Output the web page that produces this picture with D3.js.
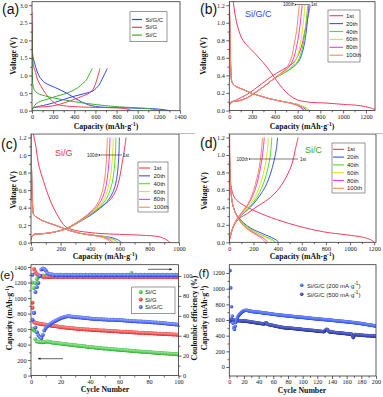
<!DOCTYPE html>
<html><head><meta charset="utf-8">
<script src="https://cdnjs.cloudflare.com/ajax/libs/d3/7.8.5/d3.min.js"></script>
<style>
body{margin:0;background:#fff;}
svg{display:block;}
.tick text{font-family:"Liberation Serif","Times New Roman",serif;font-size:6.2px;fill:#222;}
.tick line{stroke:#222;stroke-width:0.7;}
.domain{display:none;}
.ttl{font-family:"Liberation Serif","Times New Roman",serif;font-weight:bold;font-size:7.8px;fill:#111;}
.plab{font-family:"Liberation Sans",Arial,sans-serif;font-size:14px;fill:#111;}
.leg{font-family:"Liberation Sans",Arial,sans-serif;font-size:6px;fill:#222;}
.ann{font-family:"Liberation Sans",Arial,sans-serif;font-size:4.6px;fill:#222;}
</style></head><body><script>
// ---------------- DATA ----------------
const cycleLabels = ["1st","20th","40th","60th","80th","100th"];
const materials = ["Si/G/C","Si/G","Si/C"];
// (a) first cycle curves [capacity, voltage]
const a_SiGC_dis = [[0,2.5],[3,1.9],[8,1.55],[25,1.35],[50,1.1],[75,0.95],[120,0.8],[225,0.65],[328,0.5],[416,0.34],[470,0.25],[533,0.17],[600,0.12],[700,0.095],[850,0.085],[1000,0.07],[1150,0.055],[1240,0.03],[1300,0]];
const a_SiGC_chg = [[0,0.06],[20,0.09],[61,0.12],[164,0.19],[281,0.3],[384,0.4],[501,0.49],[574,0.56],[632,0.72],[660,0.88],[685,1.03],[712,1.2]];
const a_SiG_dis = [[0,2.8],[2,2.0],[5,1.5],[16,1.25],[34,1.09],[50,0.9],[83,0.71],[128,0.49],[173,0.33],[218,0.21],[241,0.175],[300,0.14],[354,0.125],[466,0.105],[600,0.095],[750,0.085],[860,0.07],[910,0.04],[940,0]];
const a_SiG_chg = [[0,0.05],[10,0.08],[40,0.1],[120,0.11],[200,0.14],[260,0.18],[320,0.24],[380,0.3],[440,0.37],[500,0.44],[540,0.5],[575,0.6],[600,0.75],[615,0.9],[630,1.05],[642,1.2]];
const a_SiC_dis = [[0,2.3],[2,1.5],[4,1.0],[8,0.75],[20,0.6],[50,0.5],[100,0.44],[227,0.35],[393,0.26],[586,0.18],[780,0.12],[973,0.085],[1111,0.057],[1170,0.03],[1200,0]];
const a_SiC_chg = [[0,0.02],[15,0.1],[40,0.2],[90,0.28],[150,0.33],[230,0.41],[300,0.47],[370,0.55],[430,0.65],[480,0.77],[520,0.9],[545,1.05],[570,1.2]];
// (b) Si/G/C cycles 20..100
const b_dis_20 = [[0,1.24],[4,1.0],[8,0.7],[14,0.45],[22,0.33],[40,0.29],[73,0.265],[130,0.235],[190,0.2],[260,0.17],[337,0.14],[420,0.115],[500,0.095],[580,0.075],[640,0.045],[680,0]];
const b_dis_40 = [[0,1.24],[4,1.0],[8,0.7],[14,0.45],[22,0.33],[40,0.29],[73,0.265],[130,0.235],[190,0.2],[260,0.17],[337,0.14],[420,0.115],[500,0.095],[590,0.072],[660,0.04],[705,0]];
const b_dis_60 = [[0,1.24],[4,1.0],[8,0.7],[14,0.45],[22,0.33],[40,0.29],[73,0.265],[130,0.235],[190,0.2],[260,0.17],[337,0.14],[420,0.115],[500,0.095],[585,0.073],[655,0.04],[700,0]];
const b_dis_80 = [[0,1.24],[4,1.0],[8,0.7],[14,0.45],[22,0.33],[40,0.29],[73,0.265],[130,0.235],[190,0.2],[260,0.17],[337,0.14],[420,0.115],[500,0.095],[570,0.072],[630,0.04],[660,0]];
const b_dis_100 = [[0,1.24],[4,1.0],[8,0.7],[14,0.45],[22,0.33],[40,0.29],[73,0.265],[130,0.235],[190,0.2],[260,0.17],[337,0.14],[420,0.115],[500,0.095],[565,0.07],[620,0.04],[650,0]];
const b_chg_20 = [[0,0.05],[5,0.08],[20,0.1],[80,0.11],[150,0.14],[200,0.18],[300,0.27],[400,0.37],[470,0.42],[545,0.48],[610,0.56],[650,0.7],[673,0.87],[688,1.04],[700,1.2]];
const b_chg_40 = [[0,0.05],[5,0.08],[20,0.1],[80,0.11],[150,0.14],[200,0.18],[300,0.27],[400,0.37],[470,0.42],[540,0.48],[600,0.56],[640,0.7],[662,0.87],[677,1.04],[690,1.2]];
const b_chg_60 = [[0,0.05],[5,0.08],[20,0.1],[80,0.11],[150,0.14],[200,0.18],[300,0.27],[400,0.37],[460,0.42],[530,0.48],[580,0.56],[615,0.7],[638,0.87],[653,1.04],[665,1.2]];
const b_chg_80 = [[0,0.05],[5,0.08],[20,0.1],[80,0.11],[150,0.14],[200,0.18],[300,0.27],[400,0.37],[460,0.43],[520,0.49],[560,0.58],[590,0.72],[612,0.88],[628,1.05],[640,1.2]];
const b_chg_100 = [[0,0.05],[5,0.08],[20,0.1],[80,0.11],[150,0.14],[200,0.18],[300,0.27],[400,0.37],[460,0.43],[510,0.5],[545,0.6],[570,0.75],[590,0.9],[603,1.05],[615,1.2]];
// (c) Si/G cycles 20..100
const c_dis_20 = [[0,1.24],[3,0.9],[7,0.6],[12,0.4],[18,0.32],[38,0.29],[80,0.25],[128,0.22],[180,0.19],[241,0.15],[300,0.12],[354,0.1],[420,0.085],[480,0.075],[540,0.06],[585,0.035],[612,0]];
const c_dis_40 = [[0,1.24],[3,0.9],[7,0.6],[12,0.4],[18,0.32],[38,0.29],[80,0.25],[128,0.22],[180,0.19],[241,0.15],[300,0.12],[354,0.1],[420,0.085],[480,0.075],[520,0.06],[560,0.035],[590,0]];
const c_dis_60 = [[0,1.24],[3,0.9],[7,0.6],[12,0.4],[18,0.32],[38,0.29],[80,0.25],[128,0.22],[180,0.19],[241,0.15],[300,0.12],[354,0.1],[420,0.085],[470,0.075],[510,0.06],[545,0.035],[570,0]];
const c_dis_80 = [[0,1.24],[3,0.9],[7,0.6],[12,0.4],[18,0.32],[38,0.29],[80,0.25],[128,0.22],[180,0.19],[241,0.15],[300,0.12],[354,0.1],[420,0.085],[460,0.073],[495,0.06],[530,0.035],[555,0]];
const c_dis_100 = [[0,1.24],[3,0.9],[7,0.6],[12,0.4],[18,0.32],[38,0.29],[80,0.25],[128,0.22],[180,0.19],[241,0.15],[300,0.12],[354,0.1],[420,0.083],[455,0.072],[485,0.06],[515,0.035],[540,0]];
const c_chg_20 = [[0,0.03],[5,0.07],[20,0.095],[60,0.1],[120,0.11],[180,0.13],[240,0.16],[300,0.21],[350,0.26],[400,0.31],[465,0.39],[515,0.47],[555,0.58],[578,0.72],[590,0.9],[595,1.05],[597,1.2]];
const c_chg_40 = [[0,0.03],[5,0.07],[20,0.095],[60,0.1],[120,0.11],[180,0.13],[240,0.16],[300,0.21],[350,0.265],[400,0.32],[460,0.4],[505,0.49],[537,0.61],[557,0.76],[567,0.93],[572,1.08],[574,1.2]];
const c_chg_60 = [[0,0.03],[5,0.07],[20,0.095],[60,0.1],[120,0.11],[180,0.13],[240,0.16],[300,0.215],[350,0.27],[400,0.33],[455,0.41],[495,0.5],[522,0.63],[540,0.78],[549,0.95],[554,1.1],[556,1.2]];
const c_chg_80 = [[0,0.03],[5,0.07],[20,0.095],[60,0.1],[120,0.11],[180,0.13],[240,0.16],[300,0.22],[350,0.275],[400,0.34],[450,0.42],[485,0.52],[507,0.65],[520,0.8],[528,0.95],[532,1.1],[534,1.2]];
const c_chg_100 = [[0,0.03],[5,0.07],[20,0.095],[60,0.1],[120,0.11],[180,0.13],[240,0.16],[300,0.22],[350,0.28],[400,0.35],[440,0.42],[470,0.52],[490,0.65],[503,0.8],[510,0.95],[514,1.1],[516,1.2]];
// (d) Si/C cycles 20..100
const d_dis_20 = [[0,1.24],[2,1.0],[5,0.8],[10,0.65],[18,0.52],[30,0.42],[50,0.34],[80,0.28],[120,0.22],[180,0.16],[240,0.12],[300,0.085],[350,0.055],[390,0.025],[410,0]];
const d_dis_40 = [[0,1.24],[2,1.0],[5,0.8],[10,0.65],[18,0.52],[30,0.42],[50,0.34],[80,0.27],[120,0.21],[180,0.15],[240,0.1],[300,0.065],[350,0.035],[385,0]];
const d_dis_60 = [[0,1.24],[2,1.0],[5,0.8],[10,0.65],[18,0.52],[30,0.42],[50,0.34],[80,0.265],[120,0.2],[180,0.14],[240,0.095],[300,0.055],[335,0.03],[360,0]];
const d_dis_80 = [[0,1.24],[2,1.0],[5,0.8],[10,0.65],[18,0.52],[30,0.42],[50,0.34],[80,0.26],[120,0.19],[180,0.13],[240,0.08],[280,0.05],[305,0.02],[320,0]];
const d_dis_100 = [[0,1.24],[2,1.0],[5,0.8],[10,0.65],[18,0.52],[30,0.42],[50,0.34],[80,0.255],[120,0.185],[180,0.12],[230,0.08],[265,0.045],[285,0.02],[300,0]];
const d_chg_20 = [[0,0.02],[10,0.08],[30,0.17],[60,0.25],[100,0.31],[150,0.37],[200,0.44],[250,0.53],[300,0.64],[340,0.78],[370,0.93],[390,1.07],[400,1.2]];
const d_chg_40 = [[0,0.02],[10,0.08],[30,0.17],[60,0.25],[100,0.31],[150,0.38],[200,0.46],[250,0.57],[290,0.7],[320,0.85],[340,1.0],[352,1.2]];
const d_chg_60 = [[0,0.02],[10,0.08],[30,0.17],[60,0.25],[100,0.32],[150,0.4],[200,0.49],[240,0.6],[275,0.75],[300,0.9],[315,1.05],[323,1.2]];
const d_chg_80 = [[0,0.02],[10,0.08],[30,0.17],[60,0.26],[100,0.33],[150,0.42],[190,0.52],[225,0.65],[250,0.8],[270,0.95],[282,1.08],[290,1.2]];
const d_chg_100 = [[0,0.02],[10,0.08],[30,0.17],[60,0.26],[100,0.34],[150,0.43],[185,0.53],[215,0.66],[240,0.8],[258,0.95],[268,1.08],[275,1.2]];
// (e) cycling, cycles 1..100
const e_cap_SiC = [1200,580,468,440,436,433,431,430,432,436, 440,438,432,428,425,422,420,418,416,414, 411,409,406,404,401,399,397,395,392,390, 388,386,384,381,379,377,375,373,370,368, 366,364,362,360,358,357,355,353,351,350, 348,346,344,343,341,339,337,336,334,332, 331,329,328,326,324,323,321,320,318,316, 315,313,312,310,309,307,306,304,303,302, 300,299,297,296,295,293,292,290,289,288, 286,285,284,282,281,280,278,277,275,272];
const e_cap_SiG = [940,690,682,677,672,668,665,662,659,656, 653,650,647,644,641,638,635,632,629,626, 624,622,620,618,616,614,612,610,608,606, 604,603,601,600,598,597,596,594,593,592, 591,589,588,587,586,585,583,582,581,580, 579,578,576,575,574,573,572,571,570,568, 567,566,565,564,563,562,561,560,558,557, 556,555,554,553,552,551,550,549,548,547, 546,545,544,543,542,541,540,539,538,537, 536,535,534,533,532,531,530,529,528,527];
const e_cap_SiGC = [1300,810,620,560,520,495,480,525,580,615, 635,650,665,678,690,700,710,720,730,738, 745,752,758,762,765,764,762,760,758,756, 754,752,750,748,746,744,742,740,738,736, 734,732,731,729,728,727,726,725,724,723, 722,721,720,720,719,719,718,718,717,716, 714,713,711,710,708,707,705,704,702,701, 700,699,698,697,696,695,694,693,692,690, 689,688,686,685,684,682,681,679,678,676, 674,672,670,668,666,664,662,660,658,655];
const e_ce_SiC = [47,88,93,97,99,100,100.3,100.5,100.2,100, 100.4,99.2,100,100.3,99.9,100.1,100.2,99.8,100,100.1, 99.9,100.2,100,99.8,100.1,100,99.9,100.2,100,100.1, 99.8,100,100.2,99.9,100,100.1,99.8,100,100.2,100, 99.9,100.1,100,99.8,100.2,100,99.9,100.1,100,100.2, 99.9,100,100.1,99.8,100,100.2,99.9,100,100.1,100, 99.8,100.1,100,100.2,99.9,100,100.1,103,100,99.9, 100.2,100,99.8,100.1,100,99.9,100.2,100,100.1,99.9, 100,100.2,99.8,100,100.1,100,99.9,100.2,100,100.1, 99.9,100,100.2,99.8,100,100.1,100,99.9,100.1,100];
const e_ce_SiG = [68,107,104,102,101,100.2,99.6,99.3,99.2,99.1, 99.2,99.0,99.1,99.3,99.0,99.2,99.1,99.0,99.2,99.1, 99.3,99.0,99.1,99.2,99.0,99.3,99.1,99.0,99.2,99.1, 99.0,99.2,99.3,99.1,99.0,99.2,99.1,99.3,99.0,99.1, 99.2,99.0,99.1,99.3,99.1,99.0,99.2,99.1,99.0,99.2, 99.3,99.1,99.0,99.2,99.1,99.0,99.3,99.1,99.2,99.0, 99.1,99.2,99.0,99.3,99.1,99.0,99.2,99.1,99.3,99.0, 99.1,99.2,99.0,99.1,99.3,99.0,99.2,99.1,99.0,99.2, 99.1,99.3,99.0,99.1,99.2,99.0,99.1,99.3,99.0,99.2, 99.1,99.0,99.2,99.3,99.1,99.0,99.2,99.1,99.0,99.2];
const e_ce_SiGC = [56,63,84,89,93,100,106.5,107.5,107,105.5, 103,102,101.5,101.6,101.2,101.0,101.3,100.9,101.1,101.2, 100.9,101.0,101.2,100.8,101.1,101.0,100.9,101.2,101.0,100.8, 101.1,101.0,100.9,101.2,101.0,100.8,101.1,100.9,101.0,101.2, 100.9,101.0,101.1,100.8,101.2,101.0,100.9,101.1,101.0,100.8, 101.2,101.0,100.9,101.1,101.0,101.2,100.8,101.0,101.1,100.9, 101.0,101.2,100.9,101.0,101.1,100.8,101.0,101.2,100.9,101.0, 101.1,100.9,101.0,101.2,100.8,101.0,101.1,100.9,101.0,101.2, 100.9,101.0,101.1,100.8,101.0,101.2,100.9,101.0,101.1,100.9, 101.0,101.2,100.8,101.0,101.1,100.9,101.0,101.2,100.9,101.0];
// (f) Si/G/C at two rates, cycles 1..200
const f_cap_200 = [1230,1010,770,650,560,500,480,520,570,600, 625,645,660,672,683,692,700,707,713,718, 722,724,724,723,721,719,717,715,713,711, 709,707,706,705,704,703,702,701,700,699, 698,697,695,694,692,691,690,689,688,686, 685,684,683,682,680,679,678,676,675,674, 672,671,670,669,668,667,665,664,663,662, 661,660,659,658,657,656,655,654,653,652, 651,650,649,648,647,646,645,644,643,642, 641,640,639,638,638,637,636,635,634,633, 632,631,630,629,628,627,626,625,624,623, 622,621,620,619,618,617,616,615,614,613, 612,611,611,610,609,608,608,607,606,605, 604,603,603,602,601,600,599,598,597,596, 595,594,593,592,591,590,589,588,587,586, 585,584,583,583,582,581,580,579,578,577, 576,575,574,573,572,571,570,569,568,567, 566,565,563,562,561,559,558,557,555,554, 552,551,549,548,546,545,543,542,540,539, 537,536,534,533,531,530,528,527,525,523];
const f_cap_500 = [580,610,605,600,598,597,596,595,594,594, 593,592,592,591,590,590,589,588,588,587, 586,585,584,583,582,580,579,578,576,575, 573,572,570,569,567,566,564,563,561,560, 558,557,555,554,552,551,549,548,562,565, 560,545,543,541,539,537,535,533,531,529, 527,525,523,521,519,517,515,513,511,510, 508,506,505,503,502,500,499,497,496,495, 498,497,496,495,494,493,492,491,490,489, 488,487,486,485,484,483,482,481,480,479, 478,477,476,475,474,473,472,471,470,469, 469,468,467,466,465,464,463,462,461,460, 459,458,457,456,455,454,453,452,451,460, 470,478,482,475,462,450,448,447,446,445, 444,443,442,441,440,439,438,437,436,435, 434,433,432,431,430,429,428,427,426,425, 424,423,422,421,420,419,418,390,375,395, 415,414,413,412,411,410,409,408,407,406, 405,404,404,403,402,402,401,400,400,399, 399,398,398,397,397,396,396,395,395,394];
// ticks
const a_xticks=[0,200,400,600,800,1000,1200,1400], a_yticks=[0,0.5,1.0,1.5,2.0,2.5,3.0];
const b_xticks=[0,200,400,600,800,1000,1200], v_yticks=[0,0.2,0.4,0.6,0.8,1.0,1.2];
const c_xticks=[0,200,400,600,800,1000];
const e_xticks=[0,20,40,60,80,100], e_yticks=[0,200,400,600,800,1000,1200,1400], e_y2ticks=[0,20,40,60,80,100];
const f_xticks=[0,20,40,60,80,100,120,140,160,180,200], f_yticks=[0,200,400,600,800,1000,1200];

// ---------------- STYLE ----------------
const cycColors=["#f03c5a","#3d55dd","#52dc2a","#e0e21c","#f03ce0","#ff8a5c"];
const matColors={"Si/G/C":"#2f45f0","Si/G":"#f23c5a","Si/C":"#3cae28"};

const W=383,H=397;
const svg=d3.select("body").append("svg").attr("width",W).attr("height",H);
const defs=svg.append("defs");
svg.append("rect").attr("width",W).attr("height",H).attr("fill","#fff");

function grad(id,base,light){
  const g=defs.append("radialGradient").attr("id",id).attr("cx","35%").attr("cy","35%").attr("r","65%");
  g.append("stop").attr("offset","0%").attr("stop-color",light);
  g.append("stop").attr("offset","100%").attr("stop-color",base);
}
grad("gG","#1fa81f","#9ff09f");grad("gR","#e01818","#ffa0a0");grad("gB","#1f3de8","#9fb0ff");
grad("gF1","#2244ee","#8aa0ff");grad("gF2","#1a2590","#6f7ee0");
defs.append("marker").attr("id","arrL").attr("viewBox","0 0 10 10").attr("refX",1).attr("refY",5).attr("markerWidth",4).attr("markerHeight",4).attr("orient","auto-start-reverse")
  .append("path").attr("d","M10,1 L0,5 L10,9 Z").attr("fill","#222");
defs.append("marker").attr("id","arrR").attr("viewBox","0 0 10 10").attr("refX",9).attr("refY",5).attr("markerWidth",4).attr("markerHeight",4).attr("orient","auto")
  .append("path").attr("d","M0,1 L10,5 L0,9 Z").attr("fill","#222");

function mid(arr){return d3.pairs(arr).map(p=>(p[0]+p[1])/2);}

function panel(p){
  const x=d3.scaleLinear().domain(p.xd).range([p.l,p.r]);
  const y=d3.scaleLinear().domain(p.yd).range([p.b,p.t]);
  const g=svg.append("g");
  const cid="clip_"+p.id;
  defs.append("clipPath").attr("id",cid).append("rect").attr("x",p.l).attr("y",p.t).attr("width",p.r-p.l).attr("height",p.b-p.t);
  g.append("g").attr("transform",`translate(0,${p.b})`).call(d3.axisBottom(x).tickValues(mid(p.xt)).tickSize(1.8).tickFormat(""));
  g.append("g").attr("transform",`translate(0,${p.b})`).call(d3.axisBottom(x).tickValues(p.xt).tickSize(3).tickPadding(1).tickFormat(p.xf||d3.format("d")));
  g.append("g").attr("transform",`translate(${p.l},0)`).call(d3.axisLeft(y).tickValues(mid(p.yt)).tickSize(1.8).tickFormat(""));
  g.append("g").attr("transform",`translate(${p.l},0)`).call(d3.axisLeft(y).tickValues(p.yt).tickSize(3).tickPadding(1.5).tickFormat(p.yf||d3.format("d")));
  const plot=g.append("g").attr("clip-path",`url(#${cid})`);
  const top=svg.append("g");
  top.append("rect").attr("x",p.l).attr("y",p.t).attr("width",p.r-p.l).attr("height",p.b-p.t).attr("fill","none").attr("stroke","#333").attr("stroke-width",0.8);
  return {x,y,g,plot,top,p};
}
const lineGen=P=>d3.line().x(d=>P.x(d[0])).y(d=>P.y(d[1])).curve(d3.curveCatmullRom.alpha(0.5));
function drawLine(P,data,color,w){P.plot.append("path").datum(data).attr("fill","none").attr("stroke",color).attr("stroke-width",w||1).attr("stroke-linejoin","round").attr("d",lineGen(P)(data));}

function capTitle(sel){
  sel.append("tspan").text("Capacity (mAh·g");
  sel.append("tspan").attr("dy",-3).attr("font-size","5.5px").text("-1");
  sel.append("tspan").attr("dy",3).text(")");
}
function xTitle(x,y,cap,txt){const t=svg.append("text").attr("class","ttl").attr("x",x).attr("y",y).attr("text-anchor","middle"); if(cap)capTitle(t); else t.text(txt);}
function yTitle(x,y,cap,txt){const t=svg.append("text").attr("class","ttl").attr("text-anchor","middle").attr("transform",`translate(${x},${y}) rotate(-90)`); if(cap)capTitle(t); else t.text(txt);}
function plabel(x,y,t,fs){const s=svg.append("text").attr("class","plab").attr("x",x).attr("y",y).text(t); if(fs)s.style("font-size",fs+"px");}

function cycLegend(x0,y0,w,h,lx0,lx1,tx,ry0,dy){
  svg.append("rect").attr("x",x0).attr("y",y0).attr("width",w).attr("height",h).attr("fill","#fff").attr("stroke","#555").attr("stroke-width",0.6);
  cycleLabels.forEach((c,i)=>{
    const yy=ry0+i*dy;
    svg.append("line").attr("x1",lx0).attr("x2",lx1).attr("y1",yy).attr("y2",yy).attr("stroke",cycColors[i]).attr("stroke-width",1.1);
    svg.append("text").attr("class","leg").attr("x",tx).attr("y",yy+2).text(c);
  });
}
function annArrow(x100,x1a,x1b,xst,y){
  svg.append("text").attr("class","ann").attr("x",x100).attr("y",y+1.6).text("100th");
  svg.append("line").attr("x1",x1b).attr("x2",x1a).attr("y1",y).attr("y2",y).attr("stroke","#222").attr("stroke-width",0.6).attr("marker-end","url(#arrL)");
  svg.append("text").attr("class","ann").attr("x",xst).attr("y",y+1.6).text("1st");
}

// ---------------- (a) ----------------
const A=panel({id:"a",l:32,r:180,t:1.7,b:110.7,xd:[0,1400],yd:[0,3.1],xt:a_xticks,yt:a_yticks,yf:d3.format(".1f")});
[[a_SiGC_dis,a_SiGC_chg,"Si/G/C"],[a_SiG_dis,a_SiG_chg,"Si/G"],[a_SiC_dis,a_SiC_chg,"Si/C"]].forEach(s=>{drawLine(A,s[0],matColors[s[2]]);drawLine(A,s[1],matColors[s[2]]);});
svg.append("rect").attr("x",130).attr("y",11.7).attr("width",37).attr("height",30).attr("fill","#fff").attr("stroke","#555").attr("stroke-width",0.6);
materials.forEach((m,i)=>{const yy=19.5+i*7.8;
  svg.append("line").attr("x1",132).attr("x2",142).attr("y1",yy).attr("y2",yy).attr("stroke",matColors[m]).attr("stroke-width",1.2);
  svg.append("text").attr("class","leg").attr("x",145.5).attr("y",yy+2).text(m);});
xTitle(106,129,true); yTitle(16,56,false,"Voltage (V)"); plabel(2,14,"(a)");

// ---------------- (b) ----------------
const B=panel({id:"b",l:229.3,r:375,t:1.7,b:110.5,xd:[0,1280],yd:[0,1.24],xt:b_xticks,yt:v_yticks,yf:d3.format(".1f")});
const bD=[a_SiGC_dis,b_dis_20,b_dis_40,b_dis_60,b_dis_80,b_dis_100], bC=[a_SiGC_chg,b_chg_20,b_chg_40,b_chg_60,b_chg_80,b_chg_100];
bD.forEach((d,i)=>{drawLine(B,d,cycColors[i]);drawLine(B,bC[i],cycColors[i]);});
cycLegend(328,10,32,52,329.5,343,346,15.7,7.9);
annArrow(283,297,310,311,4.6);
svg.append("text").attr("x",245).attr("y",17).attr("font-family","Liberation Sans, Arial, sans-serif").attr("font-size","9px").attr("fill","#3344dd").text("Si/G/C");
xTitle(302,129,true); yTitle(206,56,false,"Voltage (V)"); plabel(200,14,"(b)");

// ---------------- (c) ----------------
const C=panel({id:"c",l:31,r:179,t:134,b:242.7,xd:[0,1000],yd:[0,1.24],xt:c_xticks,yt:v_yticks,yf:d3.format(".1f")});
const cD=[a_SiG_dis,c_dis_20,c_dis_40,c_dis_60,c_dis_80,c_dis_100], cC=[a_SiG_chg,c_chg_20,c_chg_40,c_chg_60,c_chg_80,c_chg_100];
cD.forEach((d,i)=>{drawLine(C,d,cycColors[i]);drawLine(C,cC[i],cycColors[i]);});
cycLegend(138,162,30,50,139,150,153.5,168,7.85);
annArrow(87,101,122,123,155);
svg.append("text").attr("x",55).attr("y",155.5).attr("font-family","Liberation Sans, Arial, sans-serif").attr("font-size","9px").attr("fill","#ee3344").text("Si/G");
xTitle(105,259,true); yTitle(16,190,false,"Voltage (V)"); plabel(1,149,"(c)");

// ---------------- (d) ----------------
const D=panel({id:"d",l:229.3,r:376,t:134,b:242.3,xd:[0,1215],yd:[0,1.24],xt:b_xticks,yt:v_yticks,yf:d3.format(".1f")});
const dD=[a_SiC_dis,d_dis_20,d_dis_40,d_dis_60,d_dis_80,d_dis_100], dC=[a_SiC_chg,d_chg_20,d_chg_40,d_chg_60,d_chg_80,d_chg_100];
dD.forEach((d,i)=>{drawLine(D,d,cycColors[i]);drawLine(D,dC[i],cycColors[i]);});
cycLegend(332,143,33,50,333,344,347,149.3,7.8);
annArrow(236.5,251,298,300,159);
svg.append("text").attr("x",305).attr("y",152.5).attr("font-family","Liberation Sans, Arial, sans-serif").attr("font-size","9px").attr("fill","#33aa22").text("Si/C");
xTitle(302,259,true); yTitle(207,191,false,"Voltage (V)"); plabel(200,148,"(d)");

// ---------------- (e) ----------------
const E=panel({id:"e",l:31,r:178.5,t:264.7,b:375.6,xd:[0,100],yd:[0,1430],xt:e_xticks,yt:e_yticks});
const y2=d3.scaleLinear().domain([0,111.3]).range([375.6,264.7]);
E.g.append("g").attr("transform","translate(178.5,0)").call(d3.axisRight(y2).tickValues(mid(e_y2ticks)).tickSize(1.8).tickFormat(""));
E.g.append("g").attr("transform","translate(178.5,0)").call(d3.axisRight(y2).tickValues(e_y2ticks).tickSize(3).tickPadding(1.5));
const eSeries=[[e_cap_SiC,e_ce_SiC,"url(#gG)"],[e_cap_SiG,e_ce_SiG,"url(#gR)"],[e_cap_SiGC,e_ce_SiGC,"url(#gB)"]];
eSeries.forEach(s=>{
  E.plot.append("g").selectAll("circle").data(s[0]).join("circle").attr("cx",(d,i)=>E.x(i+1)).attr("cy",d=>E.y(d)).attr("r",2).attr("fill",s[2]);
});
eSeries.forEach(s=>{
  E.plot.append("g").selectAll("circle").data(s[1]).join("circle").attr("cx",(d,i)=>E.x(i+1)).attr("cy",d=>y2(d)).attr("r",2).attr("fill",s[2]);
});
svg.append("rect").attr("x",131.7).attr("y",287).attr("width",43.3).attr("height",26.7).attr("fill","#fff").attr("stroke","#555").attr("stroke-width",0.6);
[["Si/C","url(#gG)"],["Si/G","url(#gR)"],["Si/G/C","url(#gB)"]].forEach((m,i)=>{const yy=292+i*7.5;
  svg.append("circle").attr("cx",140.7).attr("cy",yy).attr("r",2).attr("fill",m[1]);
  svg.append("text").attr("class","leg").attr("x",145).attr("y",yy+2).text(m[0]);});
svg.append("line").attr("x1",148).attr("x2",172).attr("y1",269.3).attr("y2",269.3).attr("stroke","#222").attr("stroke-width",0.7).attr("marker-end","url(#arrR)");
svg.append("line").attr("x1",63).attr("x2",38).attr("y1",358.7).attr("y2",358.7).attr("stroke","#222").attr("stroke-width",0.7).attr("marker-end","url(#arrR)");
xTitle(105,392,false,"Cycle Number"); yTitle(12,318,true); plabel(0,279,"(e)",11.5);
yTitle(197,318,false,"Coulombic efficiency (%)");

// ---------------- (f) ----------------
const F=panel({id:"f",l:229.3,r:376,t:264.7,b:376,xd:[0,200],yd:[-115,1306],xt:f_xticks,yt:f_yticks});
F.plot.append("g").selectAll("circle").data(f_cap_500).join("circle").attr("cx",(d,i)=>F.x(i+1)).attr("cy",d=>F.y(d)).attr("r",1.8).attr("fill","url(#gF2)");
F.plot.append("g").selectAll("circle").data(f_cap_200).join("circle").attr("cx",(d,i)=>F.x(i+1)).attr("cy",d=>F.y(d)).attr("r",1.8).attr("fill","url(#gF1)");
svg.append("circle").attr("cx",301.7).attr("cy",285.3).attr("r",1.8).attr("fill","url(#gF1)");
svg.append("circle").attr("cx",301.7).attr("cy",294.3).attr("r",1.8).attr("fill","url(#gF2)");
[["Si/G/C (200 mA·g","-1",")"],["Si/G/C (500 mA·g","-1",")"]].forEach((t,i)=>{
  const tx=svg.append("text").attr("class","leg").attr("font-size","6.3px").attr("x",307).attr("y",287.5+i*9);
  tx.append("tspan").text(t[0]); tx.append("tspan").attr("dy",-2.5).attr("font-size","4.5px").text(t[1]); tx.append("tspan").attr("dy",2.5).text(t[2]);
});
xTitle(302,392.5,false,"Cycle Number"); yTitle(206.5,318,true); plabel(198.5,277,"(f)",11.5);

// separator bars
svg.append("line").attr("x1",32).attr("x2",195).attr("y1",133.5).attr("y2",133.5).attr("stroke","#bbb").attr("stroke-width",1.2);
svg.append("line").attr("x1",228).attr("x2",383).attr("y1",133.5).attr("y2",133.5).attr("stroke","#bbb").attr("stroke-width",1.2);
</script></body></html>
